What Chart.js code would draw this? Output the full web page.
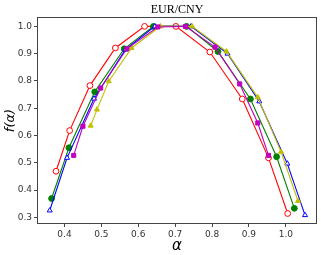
<!DOCTYPE html>
<html><head><meta charset="utf-8">
<script src="https://cdn.jsdelivr.net/npm/chart.js@4/dist/chart.umd.min.js"></script>
<style>html,body{margin:0;padding:0;background:#fff;}canvas{display:block;}</style>
</head><body>
<canvas id="c" width="321" height="255"></canvas>
<script>
const chartTitle = "EUR/CNY";
const xTicks = [0.4, 0.5, 0.6, 0.7, 0.8, 0.9, 1.0];
const yTicks = [0.3, 0.4, 0.5, 0.6, 0.7, 0.8, 0.9, 1.0];

const redX = [0.377, 0.414, 0.469, 0.538, 0.617, 0.702, 0.794, 0.882, 0.953, 1.005];
const redY = [0.469, 0.618, 0.783, 0.921, 1.0, 1.0, 0.906, 0.734, 0.518, 0.314];
const greenX = [0.365, 0.412, 0.482, 0.562, 0.641, 0.731, 0.816, 0.904, 0.975, 1.023];
const greenY = [0.369, 0.555, 0.760, 0.918, 1.0, 1.0, 0.908, 0.734, 0.522, 0.333];
const blueX = [0.360, 0.407, 0.480, 0.565, 0.645, 0.743, 0.842, 0.928, 1.004, 1.052];
const blueY = [0.325, 0.518, 0.735, 0.915, 1.0, 1.0, 0.900, 0.725, 0.497, 0.308];
const magentaX = [0.425, 0.450, 0.498, 0.569, 0.653, 0.728, 0.808, 0.875, 0.924, 0.953];
const magentaY = [0.527, 0.634, 0.774, 0.918, 0.998, 1.0, 0.924, 0.789, 0.646, 0.527];
const yellowX = [0.471, 0.488, 0.520, 0.582, 0.660, 0.746, 0.839, 0.924, 0.987, 1.033];
const yellowY = [0.636, 0.695, 0.799, 0.921, 1.0, 1.0, 0.908, 0.740, 0.540, 0.360];

function pts(xs, ys){ return xs.map((x,i)=>({x:x, y:ys[i]})); }
function ds(xs, ys, color, style, filled, order){
  return {
    data: pts(xs, ys), showLine: true, borderColor: color, borderWidth: 1.1,
    pointStyle: style, pointRadius: 2.9, pointHoverRadius: 2.9,
    pointBackgroundColor: filled ? color : '#ffffff', pointBorderColor: color,
    pointBorderWidth: 1, order: order, tension: 0
  };
}

const frame = {
  id: 'frame',
  afterDraw(chart){
    const {ctx, chartArea:a} = chart;
    ctx.save();
    ctx.strokeStyle = '#444'; ctx.lineWidth = 1;
    ctx.strokeRect(Math.round(a.left)+0.5, Math.round(a.top)+0.5, Math.round(a.right-a.left)-1, Math.round(a.bottom-a.top)-1);
    ctx.fillStyle = '#000';
    ctx.textAlign = 'center'; ctx.textBaseline = 'alphabetic';
    ctx.font = '12px "Liberation Serif", serif';
    ctx.fillText(chartTitle, (a.left+a.right)/2, 13);
    ctx.font = 'oblique 15px "DejaVu Sans", sans-serif';
    ctx.textBaseline = 'middle';
    ctx.fillText('\u03b1', (a.left+a.right)/2, 246);
    ctx.translate(11, (a.top+a.bottom)/2);
    ctx.rotate(-Math.PI/2);
    ctx.font = 'oblique 13px "DejaVu Sans", sans-serif';
    ctx.fillText('f(\u03b1)', 0, 0);
    ctx.restore();
  }
};

new Chart(document.getElementById('c'), {
  type: 'scatter',
  data: { datasets: [
    ds(redX, redY, '#ff0000', 'circle', false, 5),
    ds(greenX, greenY, '#008000', 'circle', true, 4),
    ds(blueX, blueY, '#0000ff', 'triangle', false, 3),
    ds(yellowX, yellowY, '#bfbf00', 'triangle', true, 2),
    ds(magentaX, magentaY, '#bf00bf', 'rect', true, 1)
  ]},
  options: {
    responsive: false, animation: false,
    layout: { padding: { left: 0, top: 17, right: 4, bottom: 0 } },
    plugins: { legend: { display: false }, tooltip: { enabled: false }, title: { display: false } },
    scales: {
      x: {
        type: 'linear', min: 0.3255, max: 1.0845,
        afterBuildTicks: s => { s.ticks = xTicks.map(v => ({value: v})); },
        afterFit: s => { s.height = 31; },
        grid: { drawOnChartArea: false, drawTicks: true, tickLength: 3, color: '#444' },
        border: { display: false },
        ticks: { color: '#333', font: { family: '"DejaVu Sans"', size: 9 }, padding: 2, maxRotation: 0,
                 callback: v => Number(v).toFixed(1) }
      },
      y: {
        type: 'linear', min: 0.2755, max: 1.0345,
        afterBuildTicks: s => { s.ticks = yTicks.map(v => ({value: v})); },
        afterFit: s => { s.width = 37; },
        grid: { drawOnChartArea: false, drawTicks: true, tickLength: 3, color: '#444' },
        border: { display: false },
        ticks: { color: '#333', font: { family: '"DejaVu Sans"', size: 9 }, padding: 2,
                 callback: v => Number(v).toFixed(1) }
      }
    }
  },
  plugins: [frame]
});
</script>
</body></html>
